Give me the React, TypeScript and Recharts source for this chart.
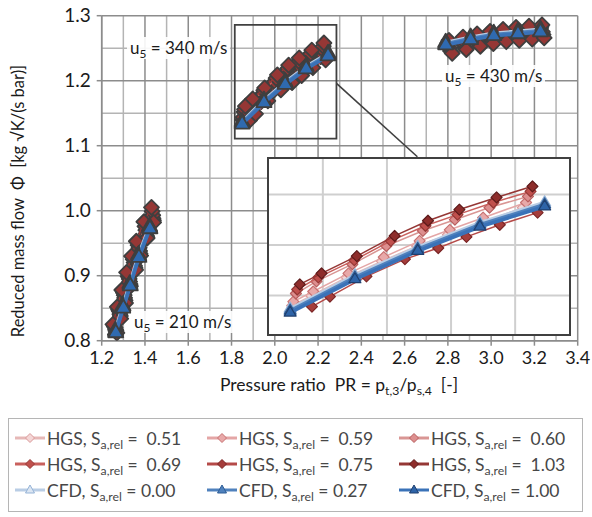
import React from 'react';
import { ScatterChart, Scatter, XAxis, YAxis, CartesianGrid, ReferenceArea, ReferenceLine } from 'recharts';

// ---------- axis ticks ----------
const X_TICKS = [1.2, 1.4, 1.6, 1.8, 2.0, 2.2, 2.4, 2.6, 2.8, 3.0, 3.2, 3.4];
const Y_TICKS = [0.8, 0.9, 1.0, 1.1, 1.2, 1.3];
const X_MINOR = [1.3, 1.5, 1.7, 1.9, 2.1, 2.3, 2.5, 2.7, 2.9, 3.1, 3.3];
const Y_MINOR = [0.85, 0.95, 1.05, 1.15, 1.25];
const INSET_X = [1.9, 2.0, 2.1, 2.2];
const INSET_Y = [1.15, 1.2, 1.25];
const INSET_XDOM = [1.816, 2.284];
const INSET_YDOM = [1.112, 1.285];

// ---------- data: [pressure ratio, reduced mass flow] per speed line ----------
const HGS051_210 = [[1.266,0.815],[1.286,0.838],[1.308,0.862],[1.331,0.887],[1.354,0.912],[1.377,0.934],[1.408,0.961],[1.439,0.985]];
const HGS051_340 = [[1.852,1.140],[1.882,1.150],[1.937,1.168],[1.992,1.184],[2.047,1.199],[2.095,1.210],[2.147,1.222],[2.212,1.237]];
const HGS051_430 = [[2.812,1.246],[2.877,1.252],[2.942,1.257],[3.002,1.261],[3.062,1.264],[3.122,1.267],[3.182,1.269],[3.240,1.271]];

const HGS059_210 = [[1.264,0.817],[1.284,0.841],[1.306,0.866],[1.329,0.891],[1.352,0.915],[1.375,0.938],[1.406,0.965],[1.437,0.988]];
const HGS059_340 = [[1.854,1.144],[1.885,1.154],[1.940,1.172],[1.995,1.188],[2.051,1.204],[2.098,1.215],[2.150,1.227],[2.217,1.242]];
const HGS059_430 = [[2.808,1.250],[2.872,1.256],[2.937,1.261],[2.997,1.265],[3.057,1.268],[3.117,1.271],[3.177,1.273],[3.237,1.275]];

const HGS060_210 = [[1.262,0.820],[1.282,0.845],[1.304,0.870],[1.327,0.895],[1.350,0.920],[1.373,0.943],[1.404,0.970],[1.436,0.993]];
const HGS060_340 = [[1.858,1.152],[1.890,1.164],[1.946,1.181],[1.999,1.199],[2.056,1.214],[2.106,1.225],[2.160,1.237],[2.220,1.248]];
const HGS060_430 = [[2.798,1.255],[2.862,1.261],[2.927,1.266],[2.987,1.270],[3.047,1.273],[3.107,1.276],[3.167,1.278],[3.228,1.280]];

const HGS069_210 = [[1.258,0.822],[1.278,0.848],[1.300,0.874],[1.322,0.899],[1.346,0.925],[1.368,0.947],[1.400,0.976],[1.433,0.999]];
const HGS069_340 = [[1.860,1.156],[1.893,1.168],[1.949,1.185],[2.006,1.204],[2.060,1.219],[2.110,1.230],[2.166,1.242],[2.224,1.253]];
const HGS069_430 = [[2.800,1.258],[2.865,1.264],[2.930,1.269],[2.990,1.273],[3.050,1.276],[3.110,1.279],[3.170,1.281],[3.230,1.283]];

const HGS075_210 = [[1.270,0.812],[1.288,0.834],[1.310,0.858],[1.333,0.884],[1.357,0.909],[1.380,0.931],[1.410,0.958],[1.440,0.982]];
const HGS075_340 = [[1.883,1.139],[1.911,1.149],[1.968,1.169],[2.028,1.186],[2.080,1.197],[2.124,1.208],[2.176,1.220],[2.235,1.232]];
const HGS075_430 = [[2.820,1.242],[2.885,1.248],[2.950,1.253],[3.010,1.257],[3.070,1.260],[3.130,1.262],[3.190,1.264],[3.245,1.266]];

const HGS103_210 = [[1.252,0.825],[1.272,0.852],[1.293,0.878],[1.315,0.905],[1.338,0.930],[1.360,0.953],[1.395,0.983],[1.430,1.005]];
const HGS103_340 = [[1.864,1.161],[1.898,1.172],[1.953,1.189],[2.012,1.209],[2.064,1.224],[2.113,1.235],[2.171,1.247],[2.227,1.258]];
const HGS103_430 = [[2.805,1.262],[2.870,1.267],[2.935,1.272],[2.995,1.276],[3.055,1.279],[3.115,1.282],[3.175,1.284],[3.235,1.286]];

const CFD000_210 = [[1.263,0.816],[1.298,0.854],[1.330,0.888],[1.370,0.932],[1.421,0.976]];
const CFD000_340 = [[1.849,1.137],[1.950,1.170],[2.048,1.198],[2.145,1.222],[2.246,1.242]];
const CFD000_430 = [[2.790,1.259],[2.905,1.267],[3.012,1.273],[3.124,1.276],[3.228,1.279]];

const CFD027_210 = [[1.264,0.814],[1.299,0.852],[1.331,0.886],[1.371,0.930],[1.422,0.974]];
const CFD027_340 = [[1.849,1.135],[1.950,1.168],[2.048,1.196],[2.145,1.220],[2.246,1.240]];
const CFD027_430 = [[2.790,1.257],[2.905,1.265],[3.012,1.271],[3.124,1.274],[3.228,1.277]];

const CFD100_210 = [[1.265,0.812],[1.300,0.850],[1.332,0.884],[1.372,0.928],[1.423,0.972]];
const CFD100_340 = [[1.849,1.133],[1.950,1.166],[2.048,1.194],[2.145,1.218],[2.246,1.238]];
const CFD100_430 = [[2.790,1.255],[2.905,1.263],[3.012,1.269],[3.124,1.272],[3.228,1.275]];

type S = { kind: 'HGS' | 'CFD'; value: string; lines: number[][][]; fill: string; stroke: string; line: string };

const SERIES: S[] = [
  { kind: 'HGS', value: ' 0.51', lines: [HGS051_210, HGS051_340, HGS051_430], fill: '#f4d6d6', stroke: '#d99a9a', line: '#e6b8b7' },
  { kind: 'HGS', value: ' 0.59', lines: [HGS059_210, HGS059_340, HGS059_430], fill: '#e8a9a9', stroke: '#c87272', line: '#e4a6a6' },
  { kind: 'HGS', value: ' 0.60', lines: [HGS060_210, HGS060_340, HGS060_430], fill: '#dd8f8f', stroke: '#b85e5e', line: '#d99694' },
  { kind: 'HGS', value: ' 0.69', lines: [HGS069_210, HGS069_340, HGS069_430], fill: '#c0504d', stroke: '#953735', line: '#c9605d' },
  { kind: 'HGS', value: ' 0.75', lines: [HGS075_210, HGS075_340, HGS075_430], fill: '#a53d3b', stroke: '#7a2525', line: '#b54a48' },
  { kind: 'HGS', value: ' 1.03', lines: [HGS103_210, HGS103_340, HGS103_430], fill: '#8e2d2b', stroke: '#5c1a1a', line: '#953735' },
  { kind: 'CFD', value: '0.00', lines: [CFD000_210, CFD000_340, CFD000_430], fill: '#dce6f2', stroke: '#95b3d7', line: '#b9cde5' },
  { kind: 'CFD', value: '0.27', lines: [CFD027_210, CFD027_340, CFD027_430], fill: '#4f81bd', stroke: '#2e5d96', line: '#4f81bd' },
  { kind: 'CFD', value: '1.00', lines: [CFD100_210, CFD100_340, CFD100_430], fill: '#2e64a8', stroke: '#1f3f6e', line: '#3a72b8' },
];

const toPts = (a: number[][]) => a.map(([pr, phi]) => ({ pr, phi }));

const FONT = 'Lato, "Noto Sans", sans-serif';

const diamond = (r: number, fill: string, stroke: string, sw: number) => (p: any) => {
  const { cx, cy } = p;
  if (cx == null || cy == null) return <g />;
  return <polygon points={`${cx},${cy - r} ${cx + r},${cy} ${cx},${cy + r} ${cx - r},${cy}`} fill={fill} stroke={stroke} strokeWidth={sw} strokeLinejoin="round" />;
};
const triangle = (w: number, h: number, fill: string, stroke: string, sw: number) => (p: any) => {
  const { cx, cy } = p;
  if (cx == null || cy == null) return <g />;
  return <polygon points={`${cx},${cy - (h * 2) / 3} ${cx + w / 2},${cy + h / 3} ${cx - w / 2},${cy + h / 3}`} fill={fill} stroke={stroke} strokeWidth={sw} strokeLinejoin="round" />;
};

const MAIN_DIAMOND = diamond(7.5, '#953735', '#3f3f3f', 1.8);
const MAIN_TRI = triangle(15, 13, '#2f6ab0', '#3f3f3f', 1.8);

const Sub = ({ children }: { children: React.ReactNode }) => (
  <span style={{ fontSize: '0.7em', position: 'relative', top: '0.35em' }}>{children}</span>
);

const Note = ({ left, top, children }: { left: number; top: number; children: React.ReactNode }) => (
  <div style={{ position: 'absolute', left, top, height: 22, lineHeight: '22px', padding: '0 3px', background: 'rgba(255,255,255,0.9)', fontSize: 17, color: '#1a1a1a', whiteSpace: 'pre' }}>{children}</div>
);

const LegendItem = ({ s, left, top }: { s: S; left: number; top: number }) => (
  <div style={{ position: 'absolute', left, top, height: 22, display: 'flex', alignItems: 'center', whiteSpace: 'pre', fontSize: 17.5, color: '#474747' }}>
    <svg width={32} height={16} style={{ marginRight: 1 }}>
      <line x1={1} y1={8} x2={31} y2={8} stroke={s.line} strokeWidth={3} />
      {s.kind === 'HGS' ? (
        <polygon points="16,3.5 20.5,8 16,12.5 11.5,8" fill={s.fill} stroke={s.stroke} strokeWidth={1} />
      ) : (
        <polygon points="16,3 20.5,11 11.5,11" fill={s.fill} stroke={s.stroke} strokeWidth={1} />
      )}
    </svg>
    <span>{s.kind}, S<Sub>a,rel</Sub>{' = ' + s.value}</span>
  </div>
);

export default function App() {
  const inset340 = SERIES.map((s) => s.lines[1]);
  return (
    <div style={{ position: 'absolute', left: 0, top: 0, width: 592, height: 517, background: '#fff', fontFamily: FONT, overflow: 'hidden' }}>
      <ScatterChart width={592} height={420} margin={{ top: 15.7, right: 14.3, bottom: 39.3, left: 0 }} style={{ position: 'absolute', left: 0, top: 0 }}>
        <CartesianGrid verticalValues={X_MINOR} horizontalValues={Y_MINOR} stroke="#b4b4b4" strokeWidth={1.5} />
        <CartesianGrid verticalValues={X_TICKS} horizontalValues={Y_TICKS} stroke="#8c8c8c" strokeWidth={1.5} />
        <XAxis
          type="number" dataKey="pr" domain={[1.2, 3.4]} ticks={X_TICKS} interval={0} allowDataOverflow
          height={40} tickSize={5} tickMargin={6}
          axisLine={{ stroke: '#8c8c8c', strokeWidth: 1.5 }} tickLine={{ stroke: '#8c8c8c', strokeWidth: 1.5 }}
          tick={{ fill: '#1a1a1a', fontSize: 18, fontFamily: FONT }} tickFormatter={(v: number) => v.toFixed(1)}
        />
        <YAxis
          type="number" dataKey="phi" domain={[0.8, 1.3]} ticks={Y_TICKS} interval={0} allowDataOverflow
          width={101.7} tickSize={5} tickMargin={6}
          axisLine={{ stroke: '#8c8c8c', strokeWidth: 1.5 }} tickLine={{ stroke: '#8c8c8c', strokeWidth: 1.5 }}
          tick={{ fill: '#1a1a1a', fontSize: 19, fontFamily: FONT }} tickFormatter={(v: number) => v.toFixed(1)}
        />
        <ReferenceArea x1={1.815} x2={2.285} y1={1.111} y2={1.286} fill="none" fillOpacity={0} stroke="#404040" strokeWidth={1.8} />
        <ReferenceLine segment={[{ x: 2.285, y: 1.196 }, { x: 2.659, y: 1.083 }]} stroke="#404040" strokeWidth={1.6} />
        {SERIES.flatMap((s, i) =>
          s.lines.map((d, j) => (
            <Scatter
              key={`m-${i}-${j}`}
              data={toPts(d)}
              isAnimationActive={false}
              line={{ stroke: s.line, strokeWidth: s.kind === 'CFD' ? 3.5 : 1.5 }}
              shape={s.kind === 'HGS' ? MAIN_DIAMOND : MAIN_TRI}
            />
          ))
        )}
      </ScatterChart>

      <Note left={127} top={37}>u<Sub>5</Sub> = 340 m/s</Note>
      <Note left={442} top={65}>u<Sub>5</Sub> = 430 m/s</Note>
      <Note left={131} top={311}>u<Sub>5</Sub> = 210 m/s</Note>

      <div style={{ position: 'absolute', left: 267, top: 157, width: 300, height: 175, border: '2px solid #404040', background: '#fff' }}>
        <ScatterChart width={300} height={175} margin={{ top: 0, right: 0, bottom: 0, left: 0 }}>
          <CartesianGrid verticalValues={INSET_X} horizontalValues={INSET_Y} stroke="#cfcfcf" strokeWidth={2} />
          <XAxis type="number" dataKey="pr" domain={INSET_XDOM} hide allowDataOverflow />
          <YAxis type="number" dataKey="phi" domain={INSET_YDOM} hide allowDataOverflow />
          {SERIES.map((s, i) => (
            <Scatter
              key={`i-${i}`}
              data={toPts(inset340[i])}
              isAnimationActive={false}
              line={{ stroke: s.line, strokeWidth: s.kind === 'CFD' ? 3.5 : 1.5 }}
              shape={s.kind === 'HGS' ? diamond(5.5, s.fill, s.stroke, 1.2) : triangle(12, 10, s.fill, s.stroke, 1.2)}
            />
          ))}
        </ScatterChart>
      </div>

      <div style={{ position: 'absolute', left: 18, top: 201, transform: 'translate(-50%, -50%) rotate(-90deg)', transformOrigin: 'center', whiteSpace: 'pre', fontSize: 16.5, color: '#1a1a1a' }}>
        {'Reduced mass flow  Φ  [kg √K/(s bar)]'}
      </div>
      <div style={{ position: 'absolute', left: 339, top: 384, transform: 'translate(-50%, -50%)', whiteSpace: 'pre', fontSize: 17.5, color: '#1a1a1a' }}>
        Pressure ratio  PR = p<Sub>t,3</Sub>/p<Sub>s,4</Sub>  [-]
      </div>

      <div style={{ position: 'absolute', left: 8, top: 418, width: 573, height: 92, border: '1.5px solid #b5b5b5' }} />
      {SERIES.map((s, i) => (
        <LegendItem key={`l-${i}`} s={s} left={14 + (i % 3) * 192} top={427 + Math.floor(i / 3) * 26} />
      ))}
    </div>
  );
}
